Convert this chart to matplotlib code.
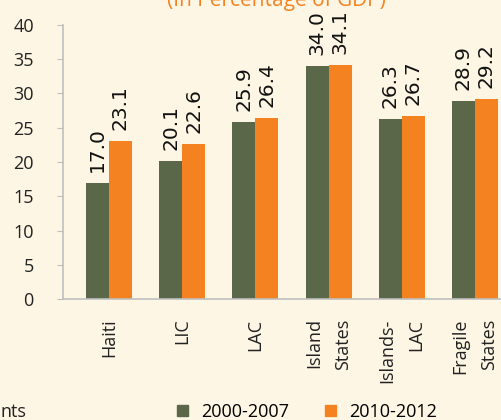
import matplotlib
matplotlib.use("Agg")
import matplotlib.pyplot as plt
from matplotlib.patches import Patch
import numpy as np

# data
categories = ["Haiti", "LIC", "LAC", "Island\nStates", "Islands-\nLAC", "Fragile\nStates"]
series_names = ["2000-2007", "2010-2012"]
vals_2000_2007 = [17.0, 20.1, 25.9, 34.0, 26.3, 28.9]
vals_2010_2012 = [23.1, 22.6, 26.4, 34.1, 26.7, 29.2]
yticks = [0, 5, 10, 15, 20, 25, 30, 35, 40]

bg = "#FEF6E4"
green = "#5B6749"
orange = "#F58220"
grey = "#BFBFBF"

plt.rcParams['font.family'] = ['Open Sans', 'DejaVu Sans']

W, H = 501, 420
fig = plt.figure(figsize=(W / 100, H / 100), dpi=100, facecolor=bg)
ax = fig.add_axes([63 / W, 1 - 299 / H, (W - 63) / W, 274 / H])
ax.set_facecolor(bg)

x = np.arange(len(categories))
bw = 0.314
ax.bar(x - bw / 2, vals_2000_2007, bw, color=green, zorder=2)
ax.bar(x + bw / 2, vals_2010_2012, bw, color=orange, zorder=2)

lab_font = ['Liberation Sans Narrow', 'DejaVu Sans']
for xi, v in zip(x - bw / 2, vals_2000_2007):
    ax.text(xi, v + 1.6, "%.1f" % v, rotation=90, ha='center', va='bottom',
            fontsize=14.5, family=lab_font, color="#111111")
for xi, v in zip(x + bw / 2, vals_2010_2012):
    ax.text(xi, v + 1.6, "%.1f" % v, rotation=90, ha='center', va='bottom',
            fontsize=14.5, family=lab_font, color="#111111")

ax.set_ylim(0, 40)
ax.set_xlim(-0.628, 5.356)
ax.set_yticks(yticks)
ax.set_xticks(x)
ax.set_xticklabels(categories, rotation=90, va='top', ha='center',
                   multialignment='right', linespacing=1.75)
ax.tick_params(axis='y', length=4, color=grey, pad=17, labelsize=13,
               labelcolor="#222222")
ax.tick_params(axis='x', length=0, pad=14, labelsize=13, labelcolor="#222222")

for s in ['top', 'right']:
    ax.spines[s].set_visible(False)
for s in ['left', 'bottom']:
    ax.spines[s].set_color(grey)
    ax.spines[s].set_linewidth(1.2)

fig.text(276 / W, 1 - 6 / H, "(In Percentage of GDP)", ha='center',
         va='baseline', fontsize=15, color=orange)

handles = [Patch(color=green), Patch(color=orange)]
fig.legend(handles, series_names, loc='center', bbox_to_anchor=(307 / W, 1 - 412 / H),
           ncol=2, frameon=False, fontsize=13, handlelength=0.62, handleheight=0.62,
           handletextpad=0.72, columnspacing=2.0, borderpad=0, borderaxespad=0)

fig.text(0, 1 - 412 / H, "nts", ha='left', va='center', fontsize=13, color="#222222")

fig.savefig("out.png", dpi=100, facecolor=bg)
